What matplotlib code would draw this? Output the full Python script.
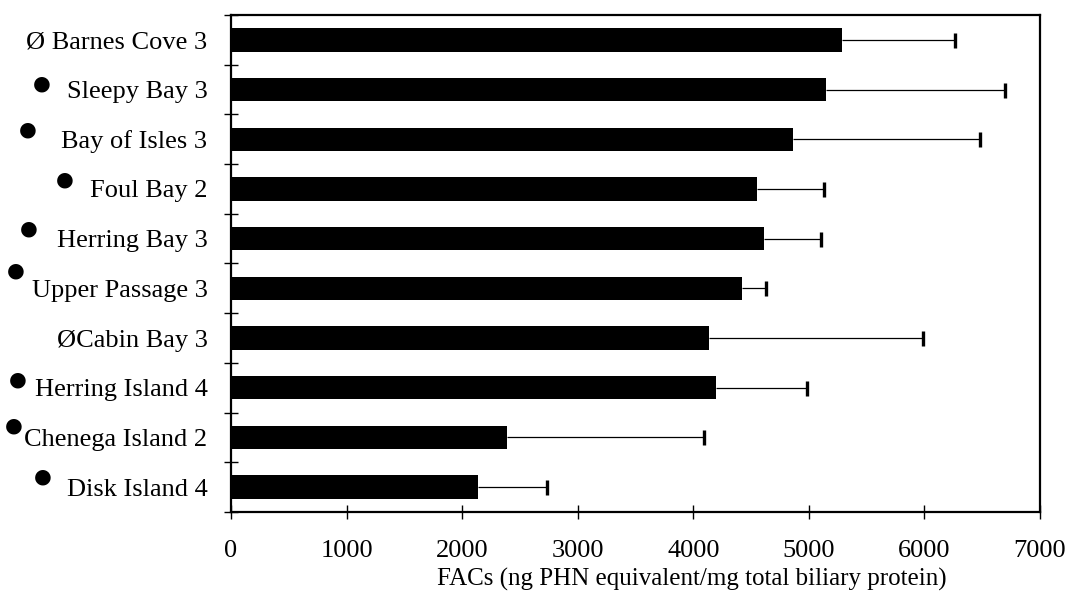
import numpy as np
import matplotlib
matplotlib.use("Agg")
import matplotlib.pyplot as plt

plt.rcParams["font.family"] = ["Liberation Serif", "DejaVu Serif"]

# sites, top to bottom as in the figure
sites = ["Barnes Cove 3", "Sleepy Bay 3", "Bay of Isles 3", "Foul Bay 2",
         "Herring Bay 3", "Upper Passage 3", "Cabin Bay 3", "Herring Island 4",
         "Chenega Island 2", "Disk Island 4"]
# Ø = reference site, ● = oiled site
site_mark = ["Ø", "●", "●", "●", "●", "●", "Ø", "●", "●", "●"]

# FACs (ng PHN equivalent/mg total biliary protein)
fac_mean = [5290, 5150, 4860, 4550, 4610, 4420, 4135, 4195, 2385, 2135]
fac_upper = [6265, 6695, 6480, 5130, 5105, 4630, 5990, 4980, 4090, 2730]

# bullet placement, pixels from the left axis line (dx, dy)
bullet_off = [None, (-189, 4), (-203, 7), (-166, 7), (-202, 8), (-215, 15),
              None, (-213, 6), (-217, 9), (-188, 8)]

n = len(sites)
y = np.arange(n)
err = np.array(fac_upper) - np.array(fac_mean)

fig = plt.figure(figsize=(10.78, 6.08), dpi=100)
ax = fig.add_axes([231 / 1078, 1 - 512 / 608, 809 / 1078, 497 / 608])

ax.barh(y, fac_mean, height=0.47, color="black", zorder=2)
eb = ax.errorbar(fac_mean, y, xerr=[np.zeros(n), err], fmt="none",
                 ecolor="black", elinewidth=0.9, capsize=5.4, capthick=2.4,
                 zorder=3)
# only the upper cap, like the original
eb[1][0].set_visible(False)

ax.set_xlim(0, 7000)
ax.set_ylim(n - 0.5, -0.5)

# y labels: Ø sites carry the symbol in the text, bullets drawn separately
labels = []
for i in range(n):
    if site_mark[i] == "Ø":
        sep = " " if i == 0 else ""
        labels.append("Ø" + sep + sites[i])
    else:
        labels.append(sites[i])
ax.set_yticks(y)
ax.set_yticklabels(labels, fontsize=19)
ax.tick_params(axis="y", which="major", length=0, pad=17)
ax.set_yticks(np.arange(n + 1) - 0.5, minor=True)
ax.tick_params(axis="y", which="minor", direction="inout", length=10, width=1)

for i in range(n):
    if bullet_off[i] is None:
        continue
    ax.annotate("●", xy=(0, y[i]), xycoords=("axes fraction", "data"),
                xytext=bullet_off[i], textcoords="offset pixels",
                ha="center", va="center", fontsize=26, annotation_clip=False)

ax.set_xticks(np.arange(0, 7001, 1000))
ax.tick_params(axis="x", direction="inout", length=10, width=1, pad=15,
               labelsize=19)
ax.set_xlabel("FACs (ng PHN equivalent/mg total biliary protein)", fontsize=18)
ax.xaxis.set_label_coords(0.569, -0.112)

for s in ax.spines.values():
    s.set_linewidth(1.6)

fig.savefig("out.png", dpi=100)
